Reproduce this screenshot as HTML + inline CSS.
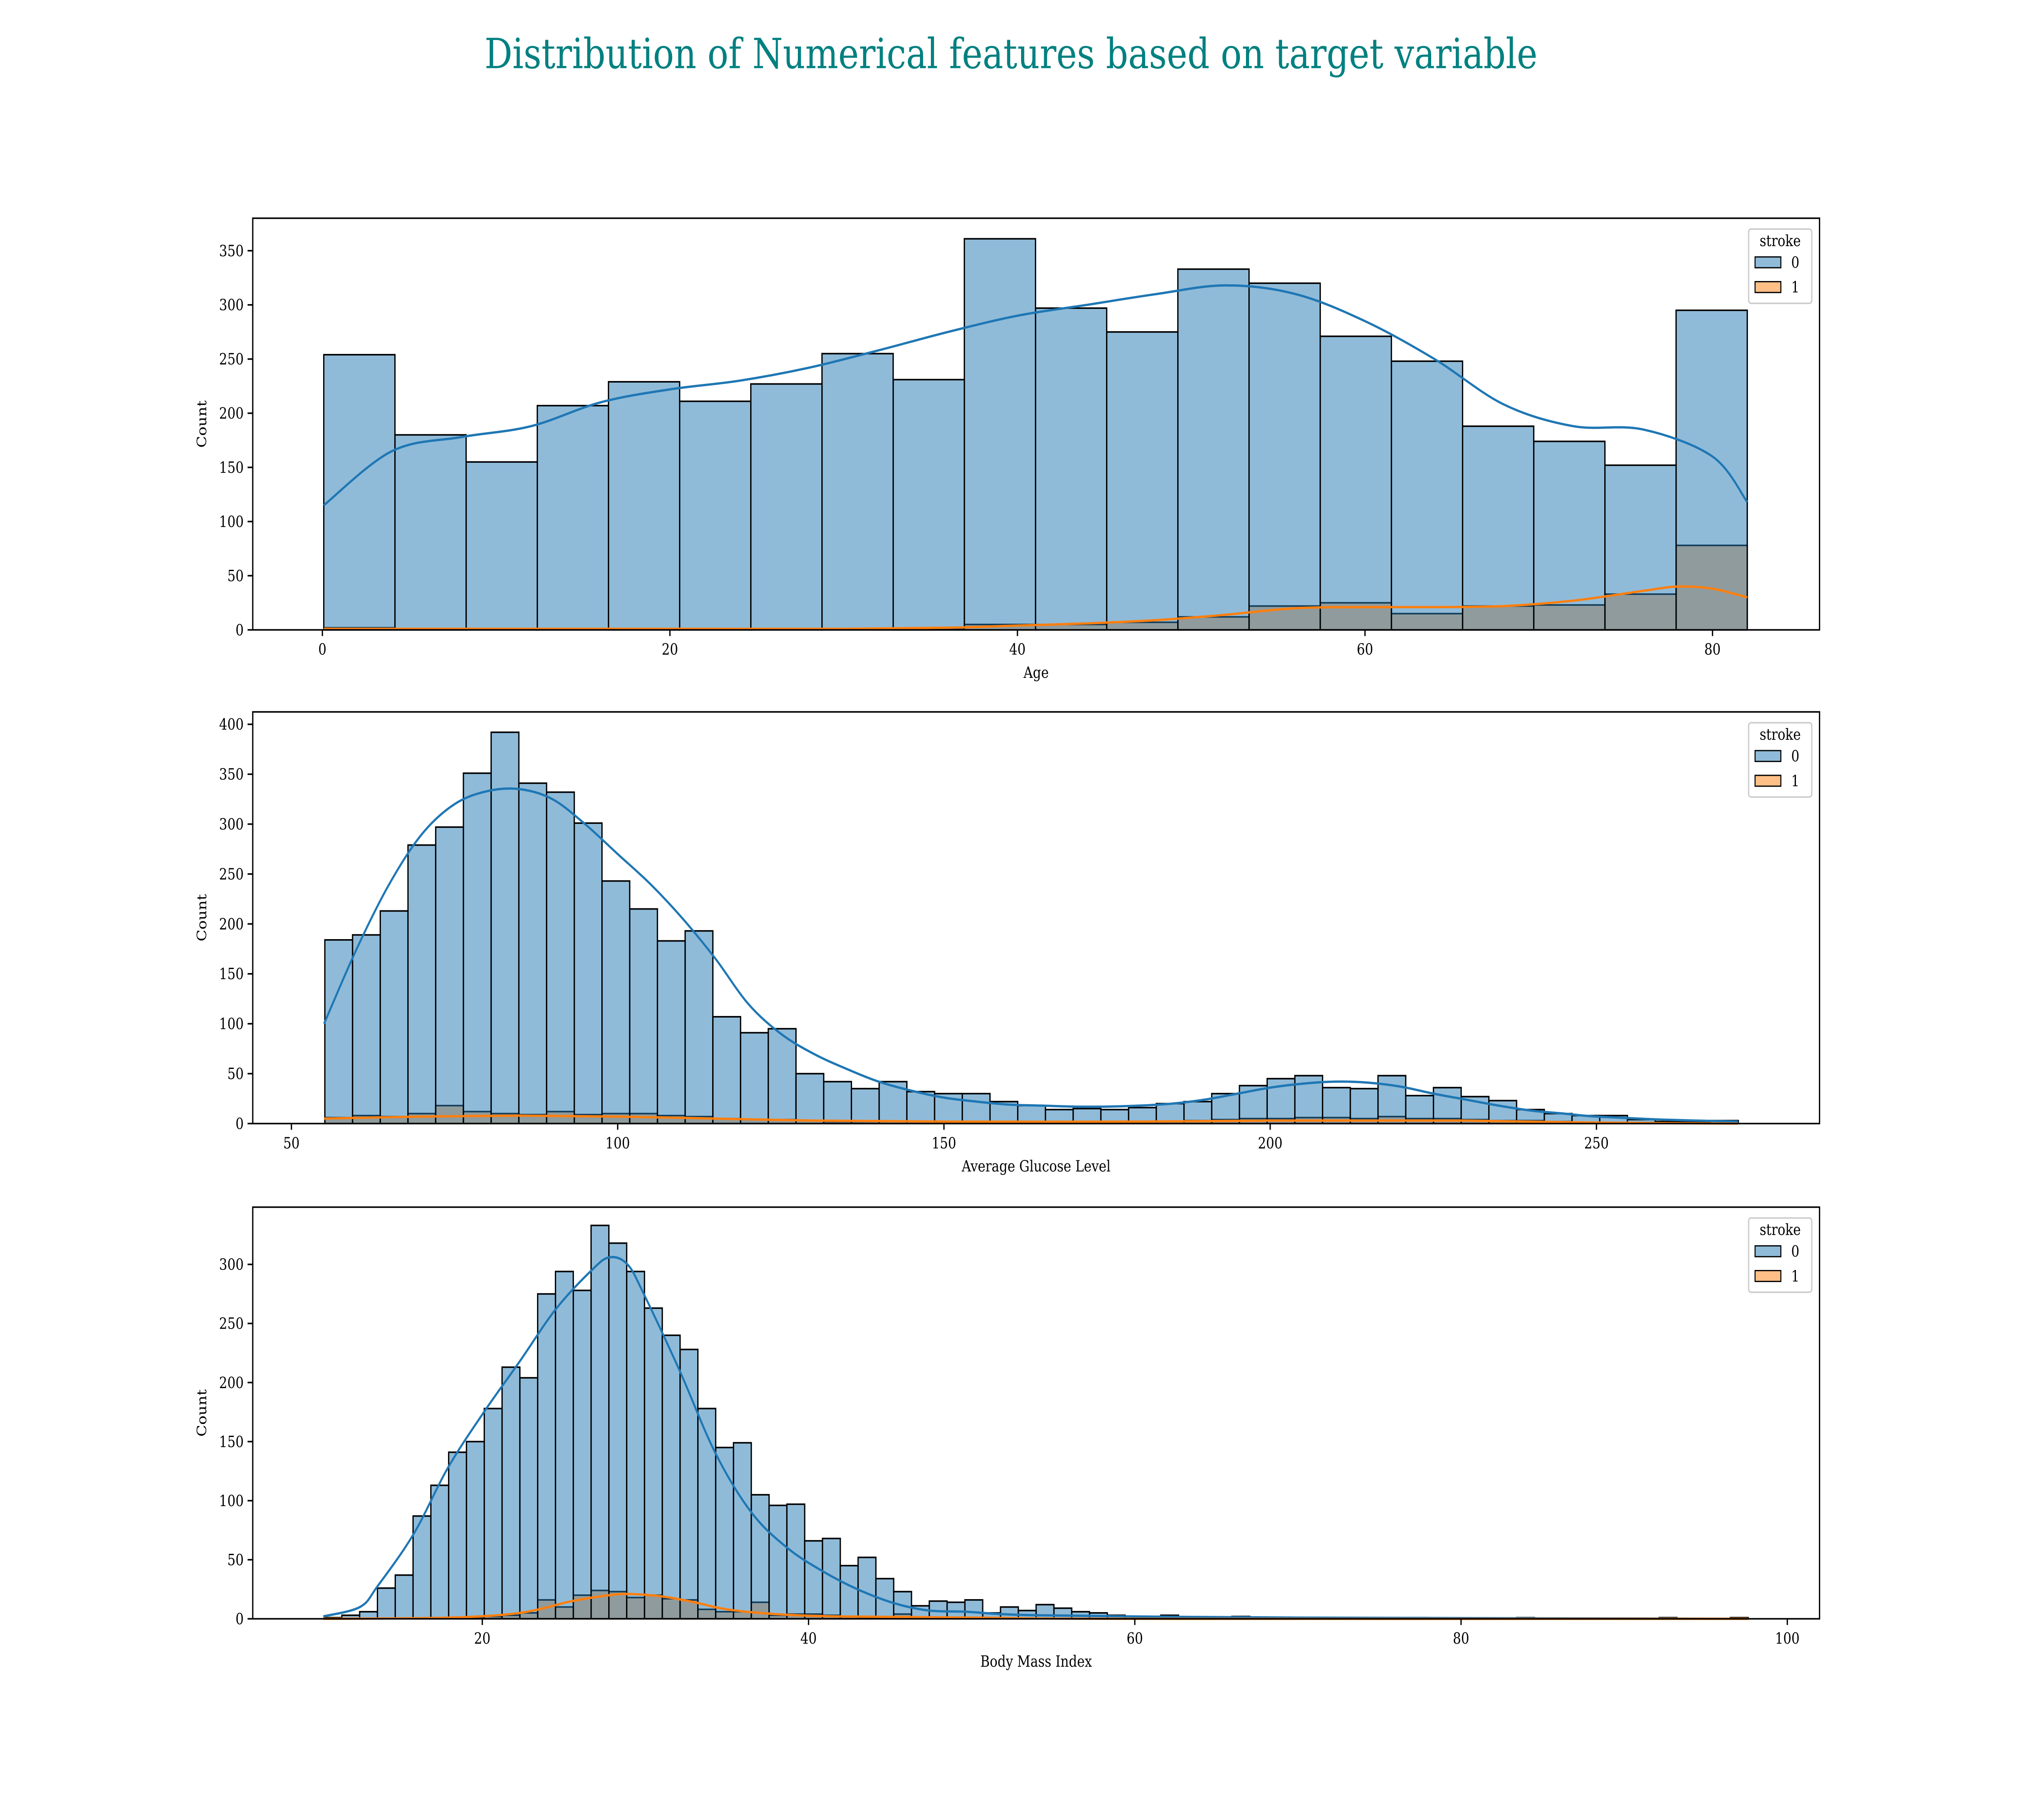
<!DOCTYPE html>
<html><head><meta charset="utf-8"><style>
html,body{margin:0;padding:0;background:#fff;overflow:hidden;width:100vw;height:100vh;}
svg{display:block;width:100vw;height:100vh;font-family:"DejaVu Serif","Liberation Serif",serif;}
</style></head><body>
<svg id="fig" viewBox="0 0 1568 1176" preserveAspectRatio="none" xmlns="http://www.w3.org/2000/svg">
<rect width="1568" height="1176" fill="#fff"/>
<text x="784" y="44" text-anchor="middle" font-size="27" fill="#008080">Distribution of Numerical features based on target variable</text>
</svg>
<script>
// ---- Age panel data ----
const ageRange = [0.08, 82];
const ageCounts0 = [254,180,155,207,229,211,227,255,231,361,297,275,333,320,271,248,188,174,152,295];
const ageCounts1 = [2,1,0,0,0,0,0,0,1,5,5,7,12,22,25,15,22,23,33,78];
const ageKdeX = [0.08,4,8,12,16,20,24,28,32,36,40,44,48,52,56,60,64,68,72,76,80,82];
const ageKde0 = [115,165,178,188,210,222,230,242,258,275,290,300,310,318,310,285,250,208,188,185,160,118];
const ageKdeX1 = [0.08,10,20,30,36,40,44,48,52,56,60,64,68,72,76,78,80,82];
const ageKde1 = [1,1,1,1,2,4,6,9,14,20,21,21,22,27,36,40,38,30];
const ageXTicks = [0,20,40,60,80];
const ageYTicks = [0,50,100,150,200,250,300,350];

// ---- Glucose panel data ----
const gluRange = [55.12, 271.74];
const gluCounts0 = [184,189,213,279,297,351,392,341,332,301,243,215,183,193,107,91,95,50,42,35,42,32,30,30,22,18,14,15,14,16,20,22,30,38,45,48,36,35,48,28,36,27,23,14,10,8,8,4,2,2,3];
const gluCounts1 = [6,8,7,10,18,12,10,9,12,9,10,10,8,7,5,4,4,3,2,2,2,2,1,1,1,1,1,1,1,2,2,3,4,5,5,6,6,5,7,5,5,4,3,3,2,1,1,1,0,0,0];
const gluKdeX = [55,60,65,70,75,80,85,90,95,100,105,110,115,120,125,130,135,140,145,150,155,160,165,170,175,180,185,190,195,200,205,210,215,220,225,230,235,240,245,250,260,271.7];
const gluKde0 = [100,175,240,290,320,333,335,325,300,270,240,205,165,120,90,70,55,42,33,26,22,19,18,17,17,18,20,24,30,36,40,42,41,37,30,24,18,13,10,7,4,2];
const gluKdeX1 = [55,70,85,100,115,130,150,180,200,215,230,250,271.7];
const gluKde1 = [5,7,8,7,5,3,2,2,3,3,3,1,0];
const gluXTicks = [50,100,150,200,250];
const gluYTicks = [0,50,100,150,200,250,300,350,400];

// ---- BMI panel data ----
const bmiRange = [10.3, 97.6];
const bmiCounts0 = [1,3,6,26,37,87,113,141,150,178,213,204,275,294,278,333,318,294,263,240,228,178,145,149,105,96,97,66,68,45,52,34,23,11,15,14,16,5,10,7,12,
 9,6,5,3,2,2,3,1,1,1,2,1,0,1,1,0,0,1,0,0,1,0,0,0,0,0,1,0,0,0,0,0,0,0,1,0,0,0,1];
const bmiCounts1 = [0,0,0,0,0,0,1,1,1,2,3,5,16,10,20,24,23,18,20,17,16,8,6,6,14,3,4,4,3,2,1,1,4,1];
const bmiKdeX = [10.25,12.5,13.6,15.8,17.9,20.1,22.3,24.5,26.7,27.8,28.9,29.9,32.1,34.3,36.5,38.7,40.9,43,45.3,47.4,49.6,51.8,54,60,70,97.6];
const bmiKde0 = [2,10,28,72,128,175,218,262,295,306,300,275,210,140,90,60,40,25,13,7,6,4,3,2,1,0];
const bmiKdeX1 = [10.25,17.9,22.3,25.5,27.8,29,31,33,35,38,42,50,60,97.6];
const bmiKde1 = [0,1,5,15,20,21,19,14,8,4,2,1,0,0];
const bmiXTicks = [20,40,60,80,100];
const bmiYTicks = [0,50,100,150,200,250,300];

const NS = "http://www.w3.org/2000/svg";
const svg = document.getElementById('fig');
function mk(tag, attrs, parent){
  const e = document.createElementNS(NS, tag);
  for (const k in attrs) e.setAttribute(k, attrs[k]);
  (parent||svg).appendChild(e);
  return e;
}
function smoothPath(pts){
  let d = 'M'+pts[0][0].toFixed(2)+','+pts[0][1].toFixed(2);
  for (let i=0;i<pts.length-1;i++){
    const p0 = pts[Math.max(0,i-1)], p1 = pts[i], p2 = pts[i+1], p3 = pts[Math.min(pts.length-1,i+2)];
    const c1x = p1[0]+(p2[0]-p0[0])/6, c1y = p1[1]+(p2[1]-p0[1])/6;
    const c2x = p2[0]-(p3[0]-p1[0])/6, c2y = p2[1]-(p3[1]-p1[1])/6;
    d += ` C${c1x.toFixed(2)},${c1y.toFixed(2)} ${c2x.toFixed(2)},${c2y.toFixed(2)} ${p2[0].toFixed(2)},${p2[1].toFixed(2)}`;
  }
  return d;
}

function panel(cfg){
  const L=196, R=1411, T=cfg.top, B=cfg.top+266;
  const g = mk('g', {});
  
  
  const xs = v => cfg.x0px + (v - cfg.x0v) * cfg.xk;
  const ys = v => B - v * cfg.yk;
  const bw = (cfg.range[1]-cfg.range[0]) / cfg.nbins;
  function bars(counts, color, nm){
    counts.forEach((c,i)=>{
      if (c<=0) return;
      const x1 = xs(cfg.range[0]+i*bw), x2 = xs(cfg.range[0]+(i+1)*bw);
      const r = mk('rect', {x:x1, y:ys(c), width:x2-x1, height:B-ys(c), fill:color, 'fill-opacity':0.5, stroke:'#000', 'stroke-width':1}, g);
      
      
    });
  }
  bars(cfg.c1, '#ff7f0e', cfg.name+'-stroke1');
  bars(cfg.c0, '#1f77b4', cfg.name+'-stroke0');
  function kde(xa, ya, color, nm){
    const pts = xa.map((x,i)=>[xs(x), ys(ya[i])]);
    const p = mk('path', {d:smoothPath(pts), fill:'none', stroke:color, 'stroke-width':1.5, 'stroke-linejoin':'round'}, g);
    
    
  }
  kde(cfg.kx0, cfg.k0, '#1f77b4', cfg.name+'-kde-stroke0');
  kde(cfg.kx1, cfg.k1, '#ff7f0e', cfg.name+'-kde-stroke1');
  const fr = mk('rect', {x:L, y:T, width:R-L, height:B-T, fill:'none', stroke:'#000', 'stroke-width':1}, g);
  
  
  cfg.xt.forEach(v=>{
    const x = xs(v);
    mk('line', {x1:x, x2:x, y1:B, y2:B+4, stroke:'#000', 'stroke-width':1}, g);
    const t = mk('text', {x:x, y:B+16, 'text-anchor':'middle', 'font-size':10}, g);
    t.textContent = v;
    
    
  });
  cfg.yt.forEach(v=>{
    const y = ys(v);
    mk('line', {x1:L-4, x2:L, y1:y, y2:y, stroke:'#000', 'stroke-width':1}, g);
    const t = mk('text', {x:L-7, y:y+3.5, 'text-anchor':'end', 'font-size':10}, g);
    t.textContent = v;
    
    
  });
  const xl = mk('text', {x:(L+R)/2, y:B+31, 'text-anchor':'middle', 'font-size':10}, g);
  xl.textContent = cfg.xlabel;
  
  
  const yl = mk('text', {x:0, y:0, 'text-anchor':'middle', 'font-size':10, transform:`translate(${L-36},${(T+B)/2}) rotate(-90)`}, g);
  yl.textContent = 'Count';
  
  
  const lg = mk('g', {}, g);
  
  
  mk('rect', {x:1356, y:T+7, width:49, height:48, rx:2, fill:'#fff', 'fill-opacity':0.8, stroke:'#ccc', 'stroke-width':1}, lg);
  const lt = mk('text', {x:1380.5, y:T+18, 'text-anchor':'middle', 'font-size':10}, lg);
  lt.textContent = 'stroke';
  [['0','#1f77b4'],['1','#ff7f0e']].forEach((e,i)=>{
    const yy = T+25+i*16;
    const pr = mk('rect', {x:1361, y:yy, width:20, height:7, fill:e[1], 'fill-opacity':0.5, stroke:'#000', 'stroke-width':0.8}, lg);
    
    
    const tt = mk('text', {x:1389, y:yy+7, 'font-size':10}, lg);
    tt.textContent = e[0];
  });
}

panel({name:'age', top:141, range:ageRange, nbins:ageCounts0.length, c0:ageCounts0, c1:ageCounts1,
  kx0:ageKdeX, k0:ageKde0, kx1:ageKdeX1, k1:ageKde1, xt:ageXTicks, yt:ageYTicks,
  x0v:0, x0px:250, xk:(1328-250)/80, yk:(407-162)/350, xlabel:'Age'});
panel({name:'glucose', top:460, range:gluRange, nbins:gluCounts0.length, c0:gluCounts0, c1:gluCounts1,
  kx0:gluKdeX, k0:gluKde0, kx1:gluKdeX1, k1:gluKde1, xt:gluXTicks, yt:gluYTicks,
  x0v:50, x0px:226, xk:(1238-226)/200, yk:(726-468)/400, xlabel:'Average Glucose Level'});
panel({name:'bmi', top:780, range:bmiRange, nbins:bmiCounts0.length, c0:bmiCounts0, c1:bmiCounts1,
  kx0:bmiKdeX, k0:bmiKde0, kx1:bmiKdeX1, k1:bmiKde1, xt:bmiXTicks, yt:bmiYTicks,
  x0v:20, x0px:374, xk:(1386-374)/80, yk:(1046-817)/300, xlabel:'Body Mass Index'});
</script>
</body></html>
